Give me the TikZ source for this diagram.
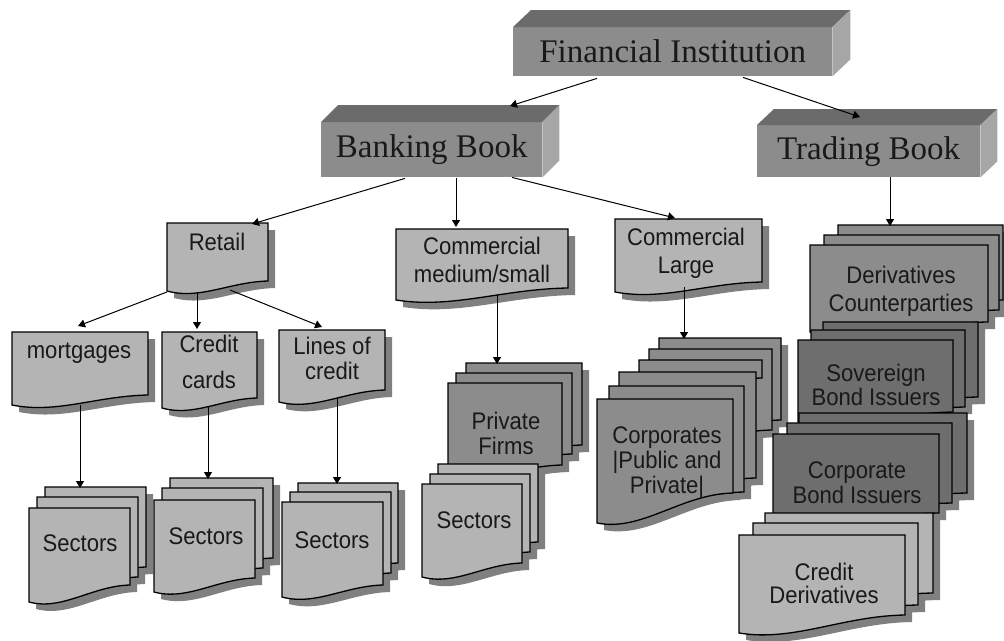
\documentclass[tikz,border=0pt]{standalone}
\usepackage{fontspec}
\setmainfont{Liberation Serif}
\newfontfamily\docfont[FakeStretch=0.92]{Liberation Sans}
\usetikzlibrary{arrows.meta,calc}
\definecolor{lightc}{HTML}{B4B4B4}
\definecolor{midc}{HTML}{8C8C8C}
\definecolor{darkc}{HTML}{6E6E6E}
\definecolor{shadowc}{HTML}{808080}
\definecolor{boxfront}{HTML}{8C8C8C}
\definecolor{boxtop}{HTML}{6B6B6B}
\definecolor{boxside}{HTML}{A6A6A6}
% document shape: x1,y1,x2,yR,yL,style
\newcommand\docshp[6]{\path[#6] (#1,#2) -- (#3,#2) -- (#3,#4) .. controls ({#1+0.62*(#3-#1)},{#4+1}) and ({#1+0.33*(#3-#1)},{#5+9}) .. (#1,#5) -- cycle;}
\newcommand\docsh[5]{\begin{scope}[shift={(7,7)}]\docshp{#1}{#2}{#3}{#4}{#5}{fill=shadowc}\end{scope}}
\newcommand\docfg[6]{\docshp{#1}{#2}{#3}{#4}{#5}{docline,fill=#6}}
\newcommand\boxfaces[3]{% node, dx, dy
  \fill[boxtop] (#1.north west) -- ++(#2,-#3) -- ($(#1.north east)+(#2,-#3)$) -- (#1.north east) -- cycle;
  \fill[boxside] (#1.north east) -- ++(#2,-#3) -- ($(#1.south east)+(#2,-#3)$) -- (#1.south east) -- cycle;}
\begin{document}
\begin{tikzpicture}[x=1pt,y=-1pt,
  box/.style={fill=boxfront, inner sep=0, anchor=north west, font=\fontsize{33}{36}\selectfont, text=black!90},
  dtext/.style={font=\docfont\fontsize{24}{28}\selectfont, inner sep=0, anchor=base, text=black!90},
  hit/.style={inner sep=0, outer sep=0, anchor=north west},
  arr/.style={draw=black, line width=1pt, -{Triangle[length=7pt,width=8pt]}},
  docline/.style={draw=black, line width=1.3pt, line join=miter}]
\useasboundingbox (0,0) rectangle (1004,640);

% ---------- 3D boxes ----------
\node[box, minimum width=319pt, minimum height=49pt] (fi) at (513,27) {Financial Institution};
\boxfaces{fi}{18}{17}
\node[box, minimum width=221pt, minimum height=55pt] (bb) at (321,122) {Banking Book};
\boxfaces{bb}{17}{17}
\node[box, minimum width=223pt, minimum height=52pt] (tb) at (757,125) {Trading Book};
\boxfaces{tb}{17}{16}

% ---------- single documents ----------
\docsh{167}{223}{268}{281}{291}\docfg{167}{223}{268}{281}{291}{lightc}
\node[hit, minimum width=101pt, minimum height=58pt] (retail) at (167,223) {};
\node[dtext] (retail-t) at (217,250) {Retail};

\docsh{396}{229}{568}{288}{300}\docfg{396}{229}{568}{288}{300}{lightc}
\node[hit, minimum width=172pt, minimum height=59pt] (cms) at (396,229) {};
\node[dtext] (cms-t1) at (482,254) {Commercial};
\node[dtext] (cms-t2) at (482,282) {medium/small};

\docsh{615}{219}{762}{282}{292}\docfg{615}{219}{762}{282}{292}{lightc}
\node[hit, minimum width=147pt, minimum height=63pt] (cl) at (615,219) {};
\node[dtext] (cl-t1) at (686,245) {Commercial};
\node[dtext] (cl-t2) at (686,273) {Large};

\docsh{12}{332}{148}{395}{405}\docfg{12}{332}{148}{395}{405}{lightc}
\node[hit, minimum width=136pt, minimum height=63pt] (mort) at (12,332) {};
\node[dtext] (mort-t) at (79,358) {mortgages};

\docsh{162}{332}{257}{398}{408}\docfg{162}{332}{257}{398}{408}{lightc}
\node[hit, minimum width=95pt, minimum height=66pt] (cc) at (162,332) {};
\node[dtext] (cc-t1) at (209,352) {Credit};
\node[dtext] (cc-t2) at (209,388) {cards};

\docsh{279}{330}{385}{390}{402}\docfg{279}{330}{385}{390}{402}{lightc}
\node[hit, minimum width=106pt, minimum height=60pt] (loc) at (279,330) {};
\node[dtext] (loc-t1) at (332,354) {Lines of};
\node[dtext] (loc-t2) at (332,379) {credit};

% ---------- Sectors stacks (retail) ----------
\docsh{45}{487}{146}{567}{581}\docsh{37}{497}{138}{577}{591}\docsh{29}{508}{130}{585}{602}
\docfg{45}{487}{146}{567}{581}{lightc}\docfg{37}{497}{138}{577}{591}{lightc}\docfg{29}{508}{130}{585}{602}{lightc}
\node[hit, minimum width=101pt, minimum height=77pt] (s1) at (29,508) {};
\node[dtext] (s1-t) at (80,551) {Sectors};

\docsh{170}{478}{273}{558}{572}\docsh{162}{488}{263}{568}{582}\docsh{154}{500}{255}{578}{592}
\docfg{170}{478}{273}{558}{572}{lightc}\docfg{162}{488}{263}{568}{582}{lightc}\docfg{154}{500}{255}{578}{592}{lightc}
\node[hit, minimum width=101pt, minimum height=78pt] (s2) at (154,500) {};
\node[dtext] (s2-t) at (206,544) {Sectors};

\docsh{298}{483}{398}{563}{575}\docsh{290}{492}{391}{573}{585}\docsh{282}{502}{383}{585}{597}
\docfg{298}{483}{398}{563}{575}{lightc}\docfg{290}{492}{391}{573}{585}{lightc}\docfg{282}{502}{383}{585}{597}{lightc}
\node[hit, minimum width=101pt, minimum height=83pt] (s3) at (282,502) {};
\node[dtext] (s3-t) at (332,548) {Sectors};

% ---------- Private firms + sectors ----------
\docsh{466}{363}{582}{445}{455}\docsh{456}{373}{572}{454}{464}\docsh{448}{383}{562}{465}{475}
\docfg{466}{363}{582}{445}{455}{midc}\docfg{456}{373}{572}{454}{464}{midc}\docfg{448}{383}{562}{465}{475}{midc}
\node[hit, minimum width=114pt, minimum height=82pt] (pf) at (448,383) {};
\node[dtext] (pf-t1) at (506,429) {Private};
\node[dtext] (pf-t2) at (506,454) {Firms};

\docsh{438}{464}{538}{542}{556}\docsh{430}{474}{530}{552}{566}\docsh{422}{484}{522}{563}{577}
\docfg{438}{464}{538}{542}{556}{lightc}\docfg{430}{474}{530}{552}{566}{lightc}\docfg{422}{484}{522}{563}{577}{lightc}
\node[hit, minimum width=100pt, minimum height=79pt] (sm) at (422,484) {};
\node[dtext] (sm-t) at (474,528) {Sectors};

% ---------- Corporates ----------
\docsh{659}{338}{781}{420}{430}\docsh{649}{349}{772}{430}{440}\docsh{639}{360}{762}{378}{388}
\docsh{619}{372}{756}{478}{490}\docsh{609}{386}{744}{492}{505}\docsh{597}{399}{733}{493}{523}
\docfg{659}{338}{781}{420}{430}{midc}\docfg{649}{349}{772}{430}{440}{midc}\docfg{639}{360}{762}{378}{388}{midc}
\docfg{619}{372}{756}{478}{490}{midc}\docfg{609}{386}{744}{492}{505}{midc}\docfg{597}{399}{733}{493}{523}{midc}
\node[hit, minimum width=136pt, minimum height=94pt] (corp) at (597,399) {};
\node[dtext] (corp-t1) at (667,443) {Corporates};
\node[dtext] (corp-t2) at (667,468) {|Public and};
\node[dtext] (corp-t3) at (667,493) {Private|};

% ---------- Trading book stacks ----------
\docsh{838}{225}{1003}{300}{310}\docsh{824}{235}{999}{310}{320}\docsh{810}{245}{988}{322}{332}
\docfg{838}{225}{1003}{300}{310}{midc}\docfg{824}{235}{999}{310}{320}{midc}\docfg{810}{245}{988}{322}{332}{midc}
\node[hit, minimum width=178pt, minimum height=77pt] (der) at (810,245) {};
\node[dtext] (der-t1) at (901,283) {Derivatives};
\node[dtext] (der-t2) at (901,311) {Counterparties};

\docsh{823}{322}{978}{397}{407}\docsh{811}{330}{965}{407}{417}\docsh{798}{340}{953}{412}{422}
\docfg{823}{322}{978}{397}{407}{darkc}\docfg{811}{330}{965}{407}{417}{darkc}\docfg{798}{340}{953}{412}{422}{darkc}
\node[hit, minimum width=155pt, minimum height=72pt] (sov) at (798,340) {};
\node[dtext] (sov-t1) at (876,381) {Sovereign};
\node[dtext] (sov-t2) at (876,405) {Bond Issuers};

\docsh{799}{413}{967}{493}{503}\docsh{787}{423}{952}{503}{513}\docsh{773}{434}{939}{513}{523}
\docfg{799}{413}{967}{493}{503}{darkc}\docfg{787}{423}{952}{503}{513}{darkc}\docfg{773}{434}{939}{513}{523}{darkc}
\node[hit, minimum width=166pt, minimum height=79pt] (cb) at (773,434) {};
\node[dtext] (cb-t1) at (857,478) {Corporate};
\node[dtext] (cb-t2) at (857,503) {Bond Issuers};

\docsh{765}{513}{933}{593}{603}\docsh{753}{523}{918}{605}{615}\docsh{739}{535}{905}{615}{633}
\docfg{765}{513}{933}{593}{603}{lightc}\docfg{753}{523}{918}{605}{615}{lightc}\docfg{739}{535}{905}{615}{633}{lightc}
\node[hit, minimum width=166pt, minimum height=80pt] (cd) at (739,535) {};
\node[dtext] (cd-t1) at (824,580) {Credit};
\node[dtext] (cd-t2) at (824,603) {Derivatives};

% ---------- connectors ----------
\draw[arr] ($(fi.south west)+(84,2)$) -- ($(bb.north west)+(189,-16)$);
\draw[arr] ($(fi.south west)+(230,1)$) -- ($(tb.north west)+(103,-8)$);
\draw[arr] ($(bb.south west)+(84,1)$) -- ($(retail.north west)+(85,1)$);
\draw[arr] ($(bb.south west)+(135,1)$) -- ($(cms.north west)+(60,-2)$);
\draw[arr] ($(bb.south west)+(191,0)$) -- ($(cl.north west)+(60,-1)$);
\draw[arr] ($(tb.south west)+(133,0)$) -- ($(der.north west)+(80,-19)$);
\draw[arr] ($(retail.south west)+(0,11)$) -- ($(mort.north west)+(66,-6)$);
\draw[arr] ($(retail.south west)+(30,12)$) -- ($(cc.north west)+(35,-3)$);
\draw[arr] ($(retail.south west)+(63,9)$) -- ($(loc.north west)+(43,-3)$);
\draw[arr] ($(mort.south west)+(68,10)$) -- ($(s1.north west)+(51,-20)$);
\draw[arr] ($(cc.south west)+(46,9)$) -- ($(s2.north west)+(54,-21)$);
\draw[arr] ($(loc.south west)+(58,8)$) -- ($(s3.north west)+(55,-18)$);
\draw[arr] ($(cms.south west)+(101,7)$) -- ($(pf.north west)+(49,-19)$);
\draw[arr] ($(cl.south west)+(69,5)$) -- ($(corp.north west)+(87,-60)$);
\end{tikzpicture}
\end{document}
